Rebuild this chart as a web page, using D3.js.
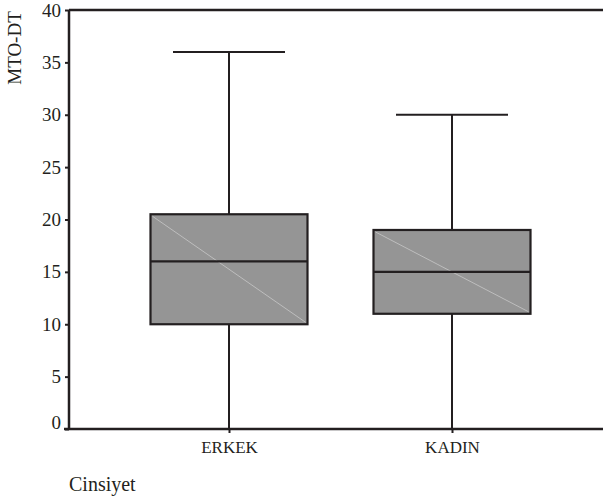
<!DOCTYPE html>
<html>
<head>
<meta charset="utf-8">
<script src="https://cdn.jsdelivr.net/npm/d3@7"></script>
<style>
  body { margin: 0; background: #fff; }
  svg { display: block; }
  svg text { font-family: "Liberation Serif", "DejaVu Serif", serif !important; }
</style>
</head>
<body>
<svg id="chart" width="603" height="497"></svg>
<script>
const categories = ['ERKEK', 'KADIN'];
const minValues = [0, 0];
const q1Values = [10, 11];
const medianValues = [16, 15];
const q3Values = [20.5, 19];
const maxValues = [36, 30];
const yTicks = [0, 5, 10, 15, 20, 25, 30, 35, 40];

const svg = d3.select('#chart');
const links = 69, rechts = 603, boven = 10, onder = 429;
const ink = '#231f20';

const y = d3.scaleLinear().domain([0, 40]).range([onder, boven]);
const x = d3.scalePoint().domain(categories).range([229, 452]);

const boxBreedte = 157;
const capBreedte = 112;

// bovenrand
svg.append('line')
  .attr('x1', links).attr('x2', rechts)
  .attr('y1', boven).attr('y2', boven)
  .attr('stroke', ink).attr('stroke-width', 2.5);

categories.forEach((c, i) => {
  const cx = x(c);
  const g = svg.append('g');
  // whisker
  g.append('line')
    .attr('x1', cx).attr('x2', cx)
    .attr('y1', y(maxValues[i])).attr('y2', y(minValues[i]))
    .attr('stroke', ink).attr('stroke-width', 2);
  g.append('line')
    .attr('x1', cx - capBreedte / 2).attr('x2', cx + capBreedte / 2)
    .attr('y1', y(maxValues[i])).attr('y2', y(maxValues[i]))
    .attr('stroke', ink).attr('stroke-width', 2);
  // box
  g.append('rect')
    .attr('x', cx - boxBreedte / 2)
    .attr('y', y(q3Values[i]))
    .attr('width', boxBreedte)
    .attr('height', y(q1Values[i]) - y(q3Values[i]))
    .attr('fill', '#959595')
    .attr('stroke', ink).attr('stroke-width', 2.2);
  g.append('line')
    .attr('x1', cx - boxBreedte / 2 + 2).attr('x2', cx + boxBreedte / 2 - 2)
    .attr('y1', y(q3Values[i]) + 2).attr('y2', y(q1Values[i]) - 2)
    .attr('stroke', '#c8c8c8').attr('stroke-width', 0.8);
  g.append('line')
    .attr('x1', cx - boxBreedte / 2).attr('x2', cx + boxBreedte / 2)
    .attr('y1', y(medianValues[i])).attr('y2', y(medianValues[i]))
    .attr('stroke', ink).attr('stroke-width', 2.2);
});

// y-as
const yAs = svg.append('g')
  .attr('transform', `translate(${links},0)`)
  .call(d3.axisLeft(y).tickValues(yTicks).tickSize(4).tickPadding(4));
yAs.select('.domain').attr('stroke', ink).attr('stroke-width', 2.5)
  .attr('d', `M0,${boven}V${onder}`);
yAs.selectAll('.tick line').attr('stroke', ink).attr('stroke-width', 2);
yAs.selectAll('.tick text')
  .style('font-size', '19px').style('fill', ink);
yAs.selectAll('.tick').filter(d => d === 0).select('text').attr('dy', '-0.05em');

// x-as
const xAs = svg.append('g')
  .attr('transform', `translate(0,${onder})`)
  .call(d3.axisBottom(x).tickSize(4).tickPadding(8));
xAs.select('.domain').attr('stroke', ink).attr('stroke-width', 2.5)
  .attr('d', `M${links - 5},0H${rechts}`);
xAs.selectAll('.tick line').attr('stroke', ink).attr('stroke-width', 2);
xAs.selectAll('.tick text')
  .style('font-size', '17px').style('fill', ink);

svg.append('text')
  .attr('transform', 'translate(21,48) rotate(-90)')
  .attr('text-anchor', 'middle')
  .style('font-size', '19px').style('fill', ink)
  .text('MTO-DT');

svg.append('text')
  .attr('x', 69).attr('y', 491)
  .style('font-size', '20px').style('fill', ink)
  .text('Cinsiyet');
</script>
</body>
</html>
